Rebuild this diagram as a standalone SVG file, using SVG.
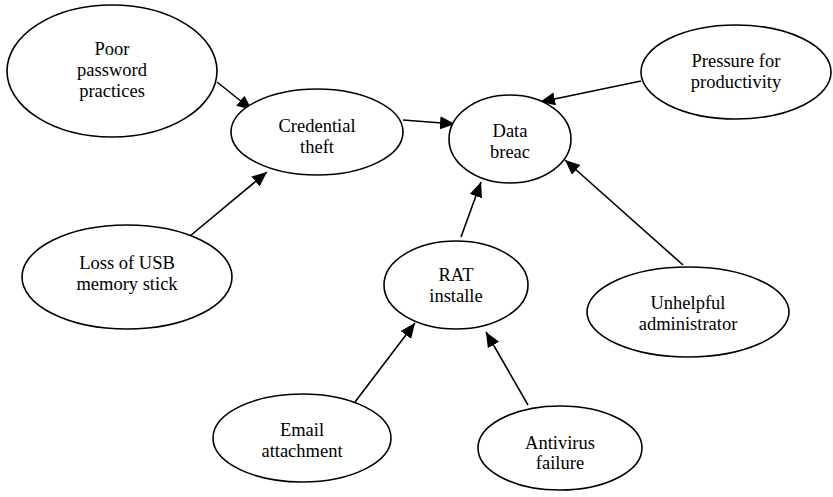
<svg xmlns="http://www.w3.org/2000/svg" width="833" height="497" viewBox="0 0 833 497">
<defs>
<style>
.n ellipse{fill:#fff;stroke:#000;stroke-width:1.6}
.n text{font-size:18.5px;fill:#000;text-anchor:middle}
.c line{stroke:#000;stroke-width:1.6;marker-end:url(#ah)}
</style>
<marker id="ah" markerUnits="userSpaceOnUse" markerWidth="16" markerHeight="14" refX="15" refY="6.5" orient="auto">
<path d="M0,0 L15,6.5 L0,13 Z" fill="#000"/>
</marker>
</defs>
<rect width="833" height="497" fill="#fff"/>
<g id="connectors" class="c">
<line x1="217" y1="82" x2="252" y2="110"/>
<line x1="190" y1="236" x2="267" y2="172"/>
<line x1="403" y1="120" x2="455" y2="124"/>
<line x1="641" y1="81" x2="540" y2="102"/>
<line x1="461" y1="237" x2="481" y2="182"/>
<line x1="683" y1="265" x2="565" y2="160"/>
<line x1="355" y1="402" x2="415" y2="323"/>
<line x1="528" y1="405" x2="486" y2="332"/>
</g>
<g font-family="Liberation Serif, DejaVu Serif, serif">
<g id="poor-password" class="n">
<ellipse cx="112" cy="71" rx="105" ry="66"/>
<text x="112" y="55">Poor</text>
<text x="112" y="76">password</text>
<text x="112" y="97">practices</text>
</g>
<g id="credential-theft" class="n">
<ellipse cx="317" cy="132" rx="86" ry="43"/>
<text x="317" y="132">Credential</text>
<text x="317" y="153">theft</text>
</g>
<g id="data-breach" class="n">
<ellipse cx="510" cy="139" rx="61" ry="44"/>
<text x="510" y="137">Data</text>
<text x="510" y="158">breac</text>
</g>
<g id="pressure" class="n">
<ellipse cx="736" cy="72" rx="95" ry="47"/>
<text x="736" y="67">Pressure for</text>
<text x="736" y="88">productivity</text>
</g>
<g id="loss-usb" class="n">
<ellipse cx="127" cy="277" rx="105" ry="52"/>
<text x="127" y="269">Loss of USB</text>
<text x="127" y="290">memory stick</text>
</g>
<g id="rat" class="n">
<ellipse cx="456" cy="285" rx="72" ry="44"/>
<text x="456" y="281">RAT</text>
<text x="456" y="302">installe</text>
</g>
<g id="unhelpful" class="n">
<ellipse cx="688" cy="312" rx="101" ry="45"/>
<text x="688" y="309">Unhelpful</text>
<text x="688" y="330">administrator</text>
</g>
<g id="email" class="n">
<ellipse cx="302" cy="438" rx="89" ry="44"/>
<text x="302" y="436">Email</text>
<text x="302" y="457">attachment</text>
</g>
<g id="antivirus" class="n">
<ellipse cx="560" cy="448" rx="82" ry="42"/>
<text x="560" y="449">Antivirus</text>
<text x="560" y="469">failure</text>
</g>
</g>
</svg>
